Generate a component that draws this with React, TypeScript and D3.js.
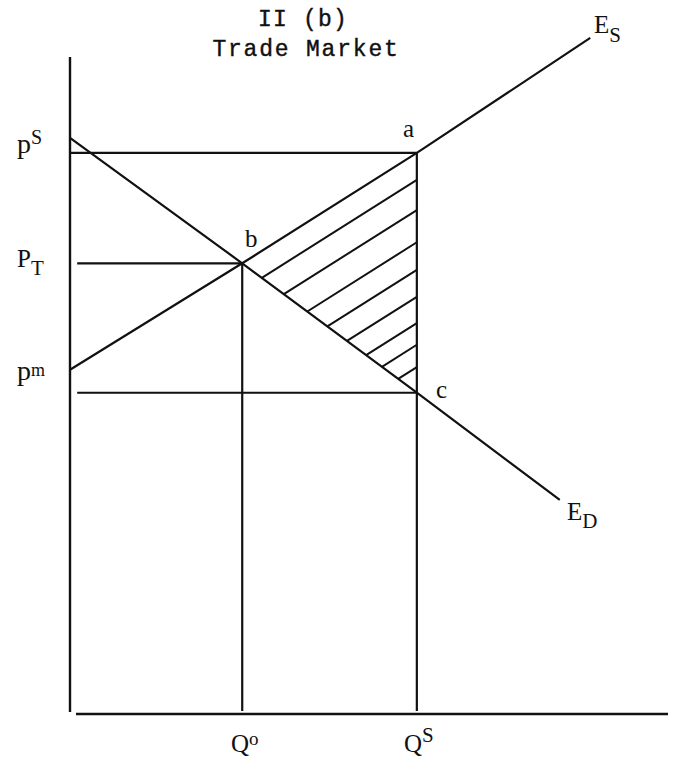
import React from "react";
import * as d3 from "d3";

// Key quantities (x, abstract units 0-100)
const Q_O = 28.8;
const Q_S = 58.0;
// Key prices (y, abstract units 0-100)
const P_S = 85.4;
const P_T = 68.6;
const P_M = 52.4;
const P_C = 48.9;

// Excess supply curve E_S: points [x, y]
const esPoints: [number, number][] = [
  [0, P_M],
  [Q_O, P_T],
  [Q_S, P_S],
  [87.0, 102.9],
];
// Excess demand curve E_D
const edPoints: [number, number][] = [
  [0, 87.7],
  [Q_O, P_T],
  [Q_S, P_C],
  [81.9, 32.6],
];
// Hatch lines: y values where they meet the Q_S vertical
const hatchY = [81.3, 76.7, 71.8, 67.6, 63.5, 59.5, 56.2, 52.8];

const W = 678;
const H = 760;

export default function App() {
  const x = d3.scaleLinear().domain([0, 100]).range([70, 668]);
  const y = d3.scaleLinear().domain([0, 100]).range([714, 57]);
  const line = d3
    .line<[number, number]>()
    .x((d) => x(d[0]))
    .y((d) => y(d[1]));

  const ms = (P_S - P_T) / (Q_S - Q_O);
  const md = (P_C - P_T) / (Q_S - Q_O);
  const hatches = hatchY.map((yh) => {
    const xi = (P_T - md * Q_O - yh + ms * Q_S) / (ms - md);
    const yi = yh + ms * (xi - Q_S);
    return [
      [xi, yi],
      [Q_S, yh],
    ] as [number, number][];
  });

  const serif = "'Liberation Serif', 'DejaVu Serif', serif";
  const mono = "'Liberation Mono', 'DejaVu Sans Mono', monospace";
  const stroke = "#111";

  return (
    <svg
      width={W}
      height={H}
      style={{ position: "absolute", left: 0, top: 0, background: "#fff" }}
    >
      {/* Title */}
      <text
        x={303}
        y={26}
        textAnchor="middle"
        fontFamily={mono}
        fontSize={23}
        letterSpacing={1.2}
        stroke={stroke}
        strokeWidth={0.4}
        fill={stroke}
      >
        II (b)
      </text>
      <text
        x={306}
        y={56}
        textAnchor="middle"
        fontFamily={mono}
        fontSize={23}
        letterSpacing={1.8}
        stroke={stroke}
        strokeWidth={0.4}
        fill={stroke}
      >
        Trade Market
      </text>

      {/* Axes */}
      <line x1={x(0)} y1={y(100)} x2={x(0)} y2={y(0) - 2} stroke={stroke} strokeWidth={2.4} />
      <line x1={x(0) + 6} y1={y(0)} x2={x(100)} y2={y(0)} stroke={stroke} strokeWidth={2.4} />

      {/* Horizontal price lines */}
      <line x1={x(0)} y1={y(P_S)} x2={x(Q_S)} y2={y(P_S)} stroke={stroke} strokeWidth={2.2} />
      <line x1={x(1.2)} y1={y(P_T)} x2={x(Q_O)} y2={y(P_T)} stroke={stroke} strokeWidth={2.2} />
      <line x1={x(1.2)} y1={y(P_C)} x2={x(Q_S)} y2={y(P_C)} stroke={stroke} strokeWidth={2.2} />

      {/* Vertical quantity lines */}
      <line x1={x(Q_O)} y1={y(P_T)} x2={x(Q_O)} y2={y(0) - 3} stroke={stroke} strokeWidth={2.2} />
      <line x1={x(Q_S)} y1={y(P_S)} x2={x(Q_S)} y2={y(0) - 3} stroke={stroke} strokeWidth={2.2} />

      {/* Curves */}
      <path d={line(esPoints) ?? ""} fill="none" stroke={stroke} strokeWidth={2.2} />
      <path d={line(edPoints) ?? ""} fill="none" stroke={stroke} strokeWidth={2.2} />

      {/* Hatching */}
      {hatches.map((h, i) => (
        <path key={i} d={line(h) ?? ""} fill="none" stroke={stroke} strokeWidth={2} />
      ))}

      {/* Price labels */}
      <text x={17} y={153} fontFamily={serif} fontSize={28} fill={stroke}>
        p
        <tspan fontSize={20} dy={-9}>S</tspan>
      </text>
      <text x={17} y={267} fontFamily={serif} fontSize={25} fill={stroke}>
        P
        <tspan fontSize={21} dy={8}>T</tspan>
      </text>
      <text x={17} y={380} fontFamily={serif} fontSize={28} fill={stroke}>
        p
        <tspan fontSize={18} dy={-4}>m</tspan>
      </text>

      {/* Point labels */}
      <text x={403} y={137} fontFamily={serif} fontSize={25} fill={stroke}>a</text>
      <text x={245} y={247} fontFamily={serif} fontSize={25} fill={stroke}>b</text>
      <text x={436} y={398} fontFamily={serif} fontSize={25} fill={stroke}>c</text>

      {/* Curve labels */}
      <text x={594} y={33} fontFamily={serif} fontSize={25} fill={stroke}>
        E
        <tspan fontSize={21} dy={9}>S</tspan>
      </text>
      <text x={567} y={520} fontFamily={serif} fontSize={25} fill={stroke}>
        E
        <tspan fontSize={21} dy={8}>D</tspan>
      </text>

      {/* Quantity labels */}
      <text x={231} y={752} fontFamily={serif} fontSize={25} fill={stroke}>
        Q
        <tspan fontSize={19} dy={-7}>o</tspan>
      </text>
      <text x={404} y={752} fontFamily={serif} fontSize={25} fill={stroke}>
        Q
        <tspan fontSize={21} dy={-10}>S</tspan>
      </text>
    </svg>
  );
}
